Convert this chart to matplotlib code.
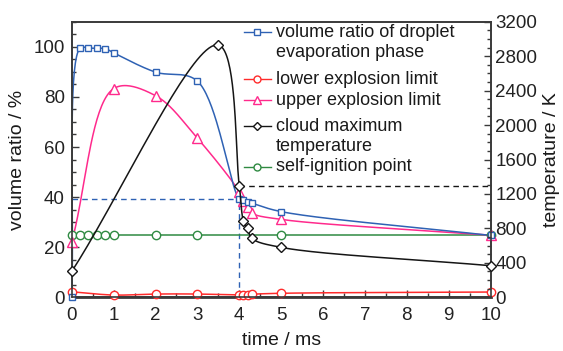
import numpy as np
import matplotlib
matplotlib.use("Agg")
import matplotlib.pyplot as plt
from matplotlib.ticker import MultipleLocator

plt.rcParams['font.family'] = ['Liberation Sans', 'DejaVu Sans']

# volume ratio of droplet evaporation phase (%)
t_vol = [0, 0.2, 0.4, 0.6, 0.8, 1.0, 2.0, 3.0, 4.0, 4.1, 4.2, 4.3, 5.0, 10.0]
v_vol = [0, 99.5, 99.5, 99.4, 99.3, 97.6, 89.9, 86.3, 39.2, 38.8, 38.2, 37.6, 34.2, 24.7]

# lower explosion limit (%)
t_low = [0, 1.0, 2.0, 3.0, 4.0, 4.1, 4.2, 4.3, 5.0, 10.0]
v_low = [2.2, 0.9, 1.3, 1.3, 0.9, 0.9, 1.0, 1.2, 1.6, 2.1]

# upper explosion limit (%)
t_up = [0, 1.0, 2.0, 3.0, 4.0, 4.1, 4.2, 4.3, 5.0, 10.0]
v_up = [22.0, 83.3, 80.5, 63.5, 42.2, 38.6, 36.0, 33.6, 31.1, 24.8]

# cloud maximum temperature (K)
t_temp = [0, 3.5, 4.0, 4.1, 4.2, 4.3, 5.0, 10.0]
v_temp = [300, 2930, 1296, 886, 801, 685, 580, 367]

# self-ignition point (%)
t_ign = [0, 0.2, 0.4, 0.6, 0.8, 1.0, 2.0, 3.0, 5.0, 10.0]
v_ign = [24.8, 24.8, 24.8, 24.8, 24.8, 24.8, 24.8, 24.8, 24.8, 24.8]

vol_mark = 39.2   # volume ratio at t = 4 ms
temp_mark = 1296  # temperature at t = 4 ms
t_mark = 4.0

labels = ['volume ratio of droplet\nevaporation phase', 'lower explosion limit',
          'upper explosion limit', 'cloud maximum\ntemperature', 'self-ignition point']

c_blue = '#2f62b4'
c_red = '#ff2b2b'
c_pink = '#ff2a8c'
c_black = '#151515'
c_green = '#2f8a42'
c_axis = '#3a3a3a'


def smooth(x, y, sx, sy, n=40, alpha=0.5):
    # centripetal catmull-rom drawn in pixel space
    p = np.column_stack([np.asarray(x, float) * sx, np.asarray(y, float) * sy])
    p = np.vstack([2 * p[0] - p[1], p, 2 * p[-1] - p[-2]])
    out = []
    for i in range(1, len(p) - 2):
        p0, p1, p2, p3 = p[i - 1], p[i], p[i + 1], p[i + 2]
        t0 = 0.0
        t1 = t0 + max(np.hypot(*(p1 - p0)), 1e-6) ** alpha
        t2 = t1 + max(np.hypot(*(p2 - p1)), 1e-6) ** alpha
        t3 = t2 + max(np.hypot(*(p3 - p2)), 1e-6) ** alpha
        t = np.linspace(t1, t2, n)[:, None]
        a1 = (t1 - t) / (t1 - t0) * p0 + (t - t0) / (t1 - t0) * p1
        a2 = (t2 - t) / (t2 - t1) * p1 + (t - t1) / (t2 - t1) * p2
        a3 = (t3 - t) / (t3 - t2) * p2 + (t - t2) / (t3 - t2) * p3
        b1 = (t2 - t) / (t2 - t0) * a1 + (t - t0) / (t2 - t0) * a2
        b2 = (t3 - t) / (t3 - t1) * a2 + (t - t1) / (t3 - t1) * a3
        c = (t2 - t) / (t2 - t1) * b1 + (t - t1) / (t2 - t1) * b2
        out.append(c if i == len(p) - 3 else c[:-1])
    out = np.vstack(out)
    return out[:, 0] / sx, out[:, 1] / sy


fig = plt.figure(figsize=(5.63, 3.51), dpi=100)
ax = fig.add_axes([0.1274, 0.153, 0.744, 0.785])
ax2 = ax.twinx()

ax.set_xlim(0, 10)
ax.set_ylim(0, 110)
ax2.set_ylim(0, 3200)

W = 563 * 0.744
H = 351 * 0.785
sx = W / 10
sy1 = H / 110
sy2 = H / 3200

# dashed guide lines
ax.plot([0, t_mark], [vol_mark, vol_mark], color=c_blue, lw=1.0, ls=(0, (4, 3)))
ax.plot([t_mark, t_mark], [0, vol_mark], color=c_blue, lw=1.0, ls=(0, (4, 3)))
ax2.plot([t_mark, 10], [temp_mark, temp_mark], color=c_black, lw=1.0, ls=(0, (4, 3)))

mk = dict(mfc='white', mew=1.0, ls='none', clip_on=False, zorder=5)

ax.plot(t_ign, v_ign, color=c_green, lw=1.1)
ax.plot(t_ign, v_ign, marker='o', ms=6, mec=c_green, **mk)

x, y = smooth(t_low, v_low, sx, sy1)
ax.plot(x, y, color=c_red, lw=1.1)
ax.plot(t_low, v_low, marker='o', ms=6, mec=c_red, **mk)

x, y = smooth(t_up, v_up, sx, sy1)
ax.plot(x, y, color=c_pink, lw=1.1)
ax.plot(t_up, v_up, marker='^', ms=6.5, mec=c_pink, **mk)

x, y = smooth(t_vol, v_vol, sx, sy1)
ax.plot(x, y, color=c_blue, lw=1.1)
ax.plot(t_vol, v_vol, marker='s', ms=5, mec=c_blue, **mk)

x, y = smooth(t_temp, v_temp, sx, sy2)
ax2.plot(x, y, color=c_black, lw=1.1)
ax2.plot(t_temp, v_temp, marker='D', ms=5, mec=c_black, **mk)

# legend drawn by hand
handles = [('s', c_blue, 5), ('o', c_red, 5), ('^', c_pink, 5.5), ('D', c_black, 4.5), ('o', c_green, 5)]
ys = [0.962, 0.792, 0.716, 0.622, 0.473]
for (m, c, s), lab, yy in zip(handles, labels, ys):
    ax.plot([0.411, 0.475], [yy, yy], transform=ax.transAxes, color=c, lw=1.0, clip_on=False)
    ax.plot([0.443], [yy], transform=ax.transAxes, marker=m, ms=s, mfc='white', mec=c, mew=1.0, clip_on=False)
    ty = yy - 0.038 if '\n' in lab else yy
    ax.text(0.487, ty, lab, transform=ax.transAxes, fontsize=13, va='center',
            ha='left', color='#1a1a1a', linespacing=1.25)

for a in (ax, ax2):
    for s in a.spines.values():
        s.set_color(c_axis)
        s.set_linewidth(1.2)
ax.spines['bottom'].set_linewidth(2.0)

ax.xaxis.set_major_locator(MultipleLocator(1))
ax.xaxis.set_minor_locator(MultipleLocator(0.5))
ax.yaxis.set_major_locator(MultipleLocator(20))
ax.yaxis.set_minor_locator(MultipleLocator(5))
ax2.yaxis.set_major_locator(MultipleLocator(400))
ax2.yaxis.set_minor_locator(MultipleLocator(100))
ax.set_yticks([0, 20, 40, 60, 80, 100])

ax.tick_params(which='both', direction='in', colors=c_axis, labelcolor='#222222', labelsize=13.5, width=1.0)
ax.tick_params(which='major', length=5)
ax.tick_params(which='minor', length=3)
ax.tick_params(axis='x', pad=7)
ax.tick_params(axis='y', pad=5)
ax2.tick_params(which='both', direction='in', colors=c_axis, labelcolor='#222222', labelsize=13.5, width=1.0)
ax2.tick_params(which='major', length=5)
ax2.tick_params(which='minor', length=3)

ax.set_xlabel('time / ms', fontsize=14, color='#1a1a1a', labelpad=6)
ax.set_ylabel('volume ratio / %', fontsize=14, color='#1a1a1a', labelpad=5)
ax2.set_ylabel('temperature / K', fontsize=14, color='#1a1a1a', labelpad=4)

fig.savefig('out.png', dpi=100)
